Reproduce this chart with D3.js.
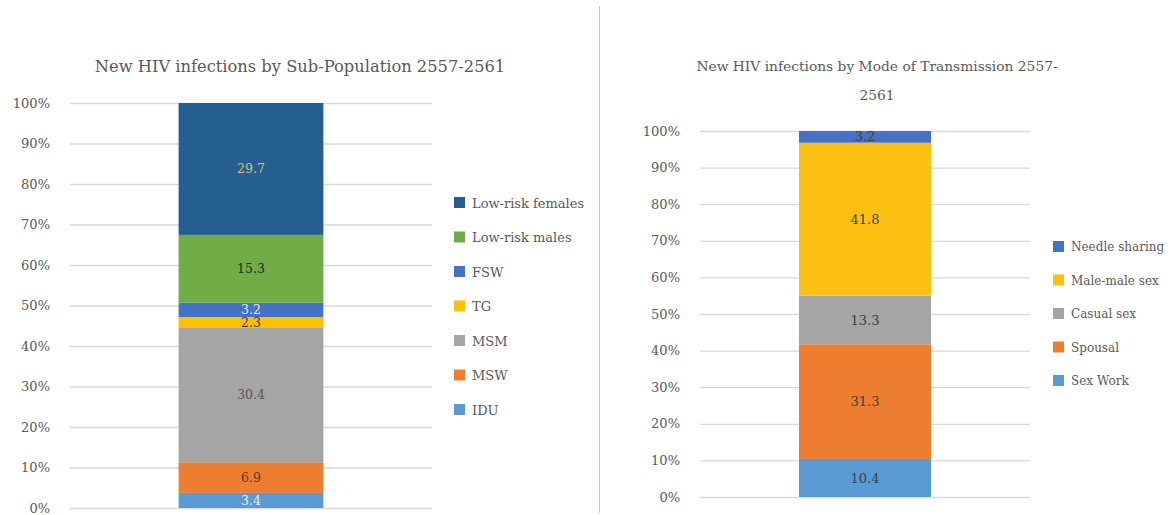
<!DOCTYPE html>
<html>
<head>
<meta charset="utf-8">
<script src="https://cdn.jsdelivr.net/npm/d3@7"></script>
<style>
  html, body { margin: 0; padding: 0; background: #fff; }
  svg { display: block; }
  text { font-family: "DejaVu Serif", serif; }
</style>
</head>
<body>
<svg id="chart" width="1170" height="515"></svg>
<script>
// Sub-population chart data (bottom to top of the stack)
const popCategories = ["IDU", "MSW", "MSM", "TG", "FSW", "Low-risk males", "Low-risk females"];
const popValues = [3.4, 6.9, 30.4, 2.3, 3.2, 15.3, 29.7];
const popColors = ["#5b9bd5", "#ed7d31", "#a5a5a5", "#ffc000", "#4472c4", "#70ad47", "#255e91"];
const popLabelColors = ["#e8eef8", "#6a3a1c", "#555555", "#3a3220", "#e8eef8", "#1f2a18", "#d8c27a"];

// Mode-of-transmission chart data (bottom to top of the stack)
const modeCategories = ["Sex Work", "Spousal", "Casual sex", "Male-male sex", "Needle sharing"];
const modeValues = [10.4, 31.3, 13.3, 41.8, 3.2];
const modeColors = ["#5b9bd5", "#ed7d31", "#a5a5a5", "#fcc012", "#4472c4"];
const modeLabelColors = ["#404040", "#404040", "#404040", "#404040", "#404040"];

const tickValues = [0, 0.1, 0.2, 0.3, 0.4, 0.5, 0.6, 0.7, 0.8, 0.9, 1.0];

const svg = d3.select("#chart");

// panel divider
svg.append("line")
  .attr("x1", 599.5).attr("x2", 599.5)
  .attr("y1", 6).attr("y2", 513)
  .attr("stroke", "#c8c8c8").attr("stroke-width", 1);

function drawPanel(cfg) {
  const g = svg.append("g");
  const y = d3.scaleLinear().domain([0, 1]).range([cfg.y0, cfg.y1]);
  const x = d3.scaleBand().domain(["all"]).range([cfg.gridX0, cfg.gridX1])
    .paddingInner(0).paddingOuter(cfg.pad);

  // gridlines + tick labels
  const axis = d3.axisLeft(y).tickValues(tickValues)
    .tickFormat(d3.format(".0%"))
    .tickSize(-(cfg.gridX1 - cfg.gridX0)).tickPadding(cfg.tickPad);
  const ax = g.append("g").attr("transform", `translate(${cfg.gridX0},0)`).call(axis);
  ax.select(".domain").remove();
  ax.selectAll(".tick line").attr("stroke", "#d9d9d9").attr("stroke-width", 1.3);
  ax.selectAll(".tick text").attr("fill", "#595959").style("font-size", "13px");

  // stacked segments
  const row = {};
  cfg.categories.forEach((c, i) => row[c] = cfg.values[i]);
  const series = d3.stack().keys(cfg.categories).offset(d3.stackOffsetExpand)([row]);

  const seg = g.selectAll("g.seg").data(series).join("g").attr("class", "seg");
  seg.append("rect")
    .attr("x", x("all"))
    .attr("width", x.bandwidth())
    .attr("y", d => y(d[0][1]))
    .attr("height", d => y(d[0][0]) - y(d[0][1]))
    .attr("fill", (d, i) => cfg.colors[i]);
  seg.append("text")
    .attr("x", x("all") + x.bandwidth() / 2)
    .attr("y", d => (y(d[0][0]) + y(d[0][1])) / 2)
    .attr("dy", "0.35em")
    .attr("text-anchor", "middle")
    .style("font-size", cfg.labelSize)
    .attr("fill", (d, i) => cfg.labelColors[i])
    .text((d, i) => cfg.values[i].toFixed(1));

  // title
  const t = g.append("text")
    .attr("x", cfg.titleX).attr("y", cfg.titleY)
    .attr("text-anchor", "middle")
    .attr("fill", "#595959")
    .style("font-size", cfg.titleSize);
  cfg.title.forEach((line, i) => {
    t.append("tspan").attr("x", cfg.titleX).attr("dy", i === 0 ? 0 : cfg.titleLH).text(line);
  });

  // legend, top entry is the top of the stack
  const legendItems = cfg.categories.map((c, i) => ({ c, color: cfg.colors[i] })).reverse();
  const lg = g.selectAll("g.legend").data(legendItems).join("g").attr("class", "legend")
    .attr("transform", (d, i) => `translate(${cfg.legX},${cfg.legY + i * cfg.legStep})`);
  lg.append("rect").attr("x", 0).attr("y", -6).attr("width", 11).attr("height", 11)
    .attr("fill", d => d.color);
  lg.append("text").attr("x", 18).attr("y", 0).attr("dy", "0.35em")
    .attr("fill", "#595959").style("font-size", cfg.legSize)
    .text(d => d.c);
}

drawPanel({
  categories: popCategories, values: popValues, colors: popColors, labelColors: popLabelColors,
  y0: 508, y1: 103, gridX0: 70, gridX1: 432, pad: 0.75, tickPad: 20, labelSize: "12.5px",
  title: ["New HIV infections by Sub-Population 2557-2561"], titleX: 300, titleY: 72, titleLH: 0,
  titleSize: "16.3px",
  legX: 454, legY: 203, legStep: 34.5, legSize: "13px"
});

drawPanel({
  categories: modeCategories, values: modeValues, colors: modeColors, labelColors: modeLabelColors,
  y0: 497, y1: 131, gridX0: 700, gridX1: 1030, pad: 0.75, tickPad: 20, labelSize: "13px",
  title: ["New HIV infections by Mode of Transmission 2557-", "2561"], titleX: 877, titleY: 71, titleLH: 29,
  titleSize: "13.8px",
  legX: 1053, legY: 247, legStep: 33.5, legSize: "12px"
});
</script>
</body>
</html>
